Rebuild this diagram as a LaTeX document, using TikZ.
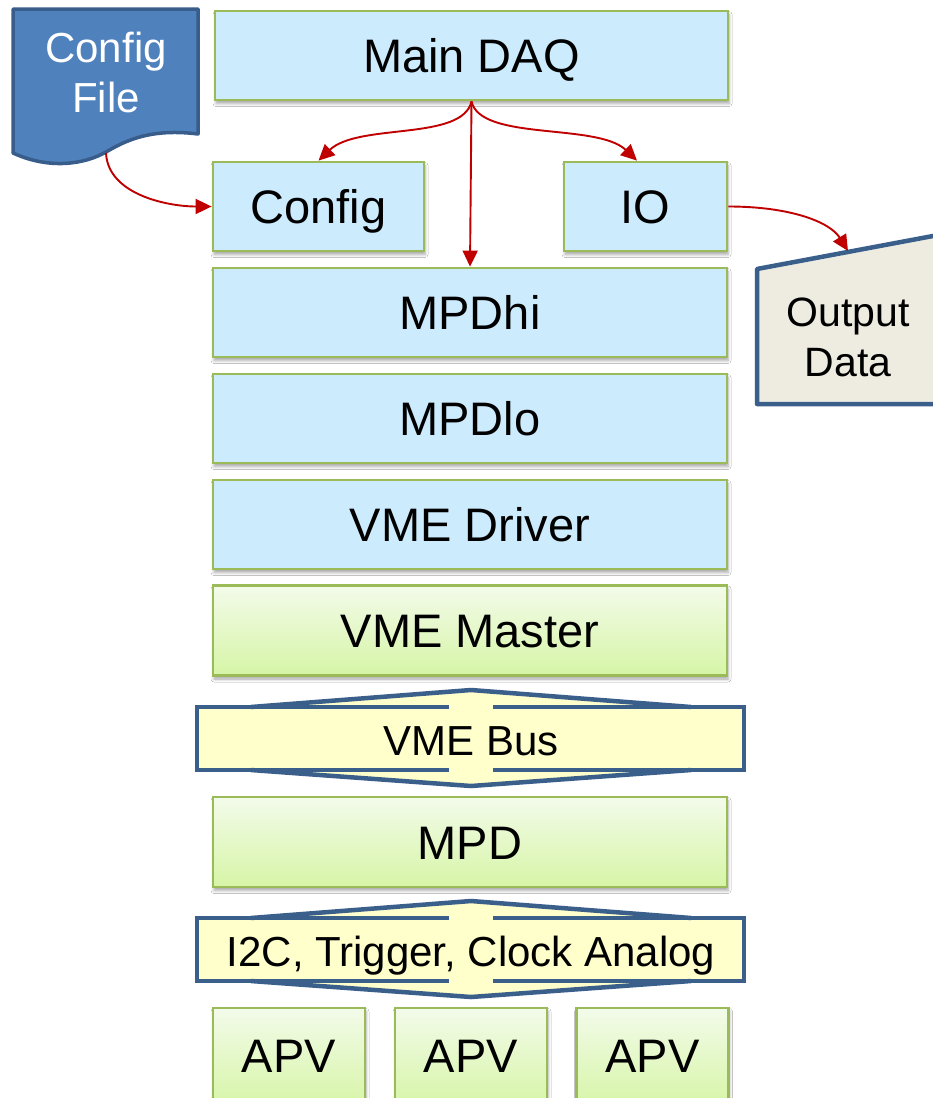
\documentclass[tikz,border=0pt]{standalone}
\usepackage{fontspec}
\setmainfont{Liberation Sans}
\usetikzlibrary{arrows.meta,shadows.blur}

\definecolor{boxblue}{RGB}{204,235,253}
\definecolor{boxedge}{RGB}{155,187,89}
\definecolor{greentop}{RGB}{243,251,234}
\definecolor{greenbot}{RGB}{214,245,166}
\definecolor{busfill}{RGB}{255,255,204}
\definecolor{busedge}{RGB}{58,95,139}
\definecolor{docfill}{RGB}{79,129,189}
\definecolor{docedge}{RGB}{56,93,138}
\definecolor{outfill}{RGB}{238,236,225}
\definecolor{linkred}{RGB}{192,0,0}

\tikzset{
  layerbox/.style={draw=boxedge, line width=2.8pt, inner sep=0pt,
    minimum height=89pt, text height=34pt, text depth=0pt,
    font=\fontsize{47}{50}\selectfont,
    blur shadow={shadow xshift=1pt, shadow yshift=-3.5pt,
                 shadow blur radius=3pt, shadow opacity=35}},
  softbox/.style={layerbox, fill=boxblue},
  hwbox/.style={layerbox, top color=greentop, bottom color=greenbot},
  bustext/.style={inner sep=0pt, text height=33pt, text depth=0pt,
    font=\fontsize{42}{50}\selectfont},
  busline/.style={draw=busedge, line width=4.5pt, line cap=butt, line join=miter},
  doctext/.style={align=center, inner sep=0pt, text=white,
    font=\fontsize{42}{50}\selectfont},
  outtext/.style={align=center, inner sep=0pt,
    font=\fontsize{41}{50}\selectfont},
  link/.style={draw=linkred, line width=1.9pt,
    -{Triangle[length=16pt,width=15pt]}}
}

\begin{document}
\begin{tikzpicture}[x=1pt,y=-1pt]
\fill[white] (0,0) rectangle (933,1098);
\useasboundingbox (0,0) rectangle (933,1098);
\clip (0,0) rectangle (933,1098);

% configuration file (document shape with wavy bottom)
\filldraw[fill=docfill, draw=docedge, line width=3.5pt, line join=round]
  (13,153) -- (13,9) -- (198,9) -- (198,134)
  .. controls (150,128) and (125,141) .. (106,152)
  .. controls (85,164) and (50,170) .. (13,153) -- cycle;
\node[doctext] (cfgfile) at (106,72) {Config\\File};
\coordinate (cfgtail) at (106,153);

% output data (manual input shape, running off the right edge)
\filldraw[fill=outfill, draw=busedge, line width=4.5pt, line join=round]
  (757,269) -- (945,233.75) -- (945,404) -- (757,404) -- cycle;
\node[outtext] (outdata) at (848,337) {Output\\Data};
\coordinate (outtop) at (848,251);

% software layers
\node[softbox, minimum width=513pt] (main) at (471.5,55.5) {Main DAQ};
\node[softbox, minimum width=211pt] (cfg)  at (318.5,206.5) {Config};
\node[softbox, minimum width=163pt] (io)   at (645.5,206.5) {IO};
\node[softbox, minimum width=514pt] (hi)   at (470,312.5) {MPDhi};
\node[softbox, minimum width=514pt] (lo)   at (470,418.5) {MPDlo};
\node[softbox, minimum width=514pt] (drv)  at (470,524.5) {VME Driver};

% hardware
\node[hwbox, minimum width=514pt, minimum height=90pt] (master) at (470,630.5) {VME Master};
\node[hwbox, minimum width=514pt, minimum height=90pt] (mpd) at (470,842) {MPD};
\node[hwbox, minimum width=152pt, minimum height=100pt, text depth=6pt] (apv1) at (289,1058) {APV};
\node[hwbox, minimum width=152pt, minimum height=100pt, text depth=6pt] (apv2) at (471,1058) {APV};
\node[hwbox, minimum width=152pt, minimum height=100pt, text depth=6pt] (apv3) at (652.5,1058) {APV};

% VME bus (up-down arrow band)
\fill[busfill] (197,707) rectangle (744,770);
\fill[busfill] (251,707) -- (471,690) -- (691,707) -- cycle;
\fill[busfill] (251,770) -- (471,786) -- (691,770) -- cycle;
\draw[busline] (449,707) -- (197,707) -- (197,770) -- (449,770);
\draw[busline] (493,707) -- (744,707) -- (744,770) -- (493,770);
\draw[busline] (251,707) -- (471,690) -- (691,707);
\draw[busline] (251,770) -- (471,786) -- (691,770);
\node[bustext] (vmebus) at (471,738.5) {VME Bus};

% front-end signal band
\fill[busfill] (197,918) rectangle (744,981);
\fill[busfill] (251,918) -- (471,901) -- (691,918) -- cycle;
\fill[busfill] (251,981) -- (471,997) -- (691,981) -- cycle;
\draw[busline] (449,918) -- (197,918) -- (197,981) -- (449,981);
\draw[busline] (493,918) -- (744,918) -- (744,981) -- (493,981);
\draw[busline] (251,918) -- (471,901) -- (691,918);
\draw[busline] (251,981) -- (471,997) -- (691,981);
\node[bustext] (i2c) at (471,949.5) {I2C, Trigger, Clock Analog};

% dependencies
\draw[link] (main.south) .. controls +(-9,40) and +(40,-38) .. (cfg.north);
\draw[link] (main.south) .. controls +(9,40) and +(-40,-38) .. ([xshift=-8.5pt]io.north);
\draw[link] (main.south) -- (hi.north);
\draw[link] (cfgtail) .. controls +(2,42) and +(-43,0) .. (cfg.west);
\draw[link] (io.east) .. controls +(62,0) and +(-18,-29) .. (outtop);
\end{tikzpicture}
\end{document}
